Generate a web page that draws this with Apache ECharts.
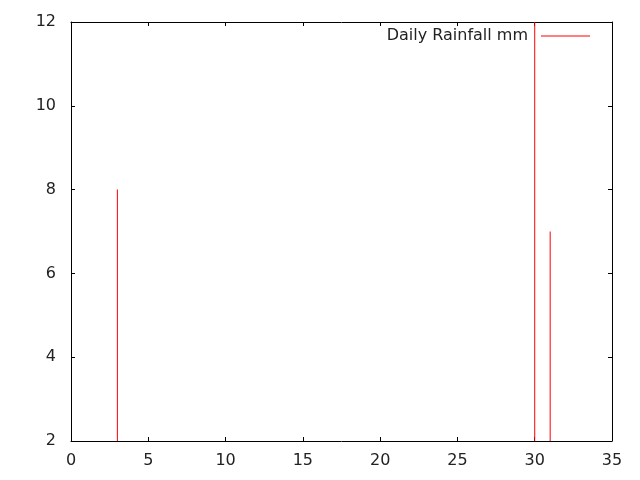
<!DOCTYPE html>
<html>
<head>
<meta charset="utf-8">
<script src="https://cdn.jsdelivr.net/npm/echarts@6/dist/echarts.min.js"></script>
<style>
  html, body { margin: 0; padding: 0; background: #fff; }
  #main { width: 640px; height: 480px; }
</style>
</head>
<body>
<div id="main"></div>
<script>
    // days with rain (day of month) and amount in mm
    var days = [3, 30, 31];
    var rain = [8, 15, 7];
    var xTicks = [0, 5, 10, 15, 20, 25, 30, 35];
    var yTicks = [2, 4, 6, 8, 10, 12];

    var data = [];
    for (var i = 0; i < days.length; i++) {
        data.push([days[i], rain[i]]);
    }

    var myChart = echarts.init(document.getElementById('main'));
    var font = 'DejaVu Sans';
    var tick = { show: true, inside: true, length: 4, lineStyle: { color: '#000' } };
    var line = { show: true, onZero: false, lineStyle: { color: '#000', width: 1 } };

    var option = {
        animation: false,
        backgroundColor: '#fff',
        textStyle: { fontFamily: font },
        grid: { left: 71, right: 28, top: 22, bottom: 39 },
        legend: {
            data: ['Daily Rainfall mm'],
            right: 45,
            top: 23,
            align: 'right',
            icon: 'rect',
            itemWidth: 49,
            itemHeight: 1,
            itemGap: 0,
            textStyle: { fontFamily: font, fontSize: 16, color: '#222', padding: [0, 8, 0, 0] }
        },
        xAxis: [{
            type: 'value', min: xTicks[0], max: xTicks[xTicks.length - 1], interval: 5,
            axisLine: line, axisTick: tick, splitLine: { show: false },
            axisLabel: { color: '#222', fontSize: 16, fontFamily: font, margin: 12 }
        }, {
            type: 'value', position: 'top', min: xTicks[0], max: xTicks[xTicks.length - 1], interval: 5,
            axisLine: line, axisTick: tick, splitLine: { show: false },
            axisLabel: { show: false }
        }],
        yAxis: [{
            type: 'value', min: yTicks[0], max: yTicks[yTicks.length - 1], interval: 2,
            axisLine: line, axisTick: tick, splitLine: { show: false },
            axisLabel: { color: '#222', fontSize: 16, fontFamily: font, margin: 15 }
        }, {
            type: 'value', position: 'right', min: yTicks[0], max: yTicks[yTicks.length - 1], interval: 2,
            axisLine: line, axisTick: tick, splitLine: { show: false },
            axisLabel: { show: false }
        }],
        series: [{
            name: 'Daily Rainfall mm',
            type: 'bar',
            barWidth: 1,
            clip: true,
            itemStyle: { color: '#ff0000' },
            data: data
        }]
    };
    myChart.setOption(option);
</script>
</body>
</html>
